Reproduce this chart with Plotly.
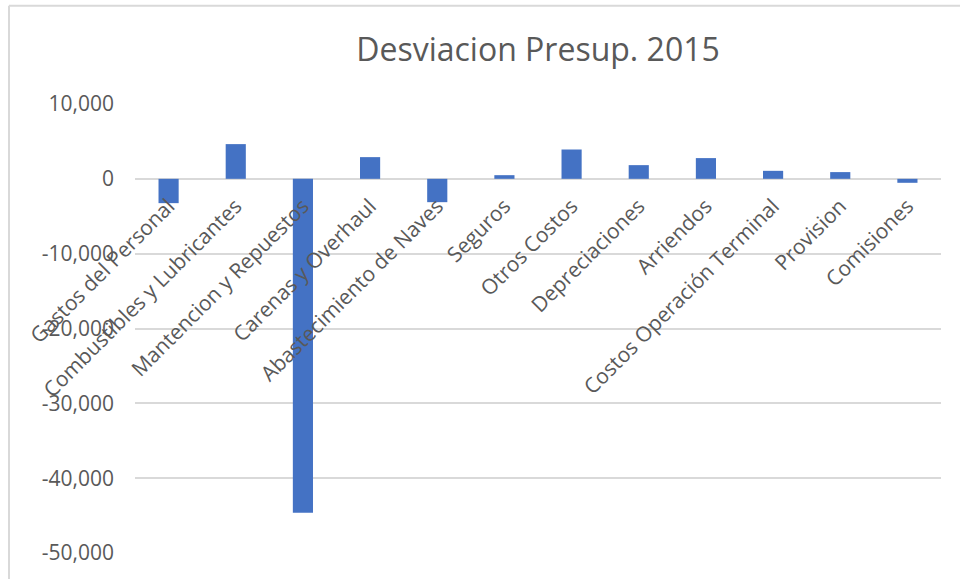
import plotly.graph_objects as go

categories = ["Gastos del Personal", "Combustibles y Lubricantes", "Mantencion y Repuestos",
              "Carenas y Overhaul", "Abastecimiento de Naves", "Seguros", "Otros Costos",
              "Depreciaciones", "Arriendos", "Costos Operación Terminal", "Provision", "Comisiones"]
values = [-3250, 4640, -44620, 2900, -3120, 490, 3920, 1830, 2770, 1070, 900, -530]
y_ticks = [10000, 0, -10000, -20000, -30000, -40000, -50000]
y_tick_labels = ["10,000", "0", "-10,000", "-20,000", "-30,000", "-40,000", "-50,000"]
title_text = "Desviacion Presup. 2015"

W, H = 960, 579
L, R, T, B = 135, 19, 104.3, 26
ymin, ymax = -50000, 10000
zero_pos = (0 - ymin) / (ymax - ymin)

FONT = "Open Sans"
GRAY = "#595959"

fig = go.Figure(go.Bar(x=categories, y=values, marker=dict(color="#4472C4", line=dict(width=0)),
                       width=0.3))

fig.update_layout(
    width=W, height=H,
    margin=dict(l=L, r=R, t=T, b=B, autoexpand=False),
    paper_bgcolor="white", plot_bgcolor="white",
    showlegend=False,
    title=dict(text=title_text, x=0.5, xref="paper", y=1 - 50 / H, yanchor="middle",
               font=dict(family=FONT, size=32, color=GRAY)),
    font=dict(family=FONT, color=GRAY),
)
fig.update_yaxes(range=[ymin, ymax], tickvals=y_ticks, ticktext=y_tick_labels,
                 showgrid=True, gridcolor="#d9d9d9", gridwidth=1.6,
                 zeroline=True, zerolinecolor="#d9d9d9", zerolinewidth=1.6,
                 showline=False, ticks="", ticklabelstandoff=20,
                 tickfont=dict(family=FONT, size=21, color=GRAY))
fig.update_xaxes(anchor="free", position=zero_pos, showline=False, showgrid=False,
                 ticks="", tickangle=-45, automargin=False, ticklabelstandoff=10,
                 tickfont=dict(family=FONT, size=21, color=GRAY))

# Excel chart area border (left and top edges)
px_x = lambda p: (p - L) / (W - L - R)
px_y = lambda p: (H - B - p) / (H - T - B)
fig.add_shape(type="line", xref="paper", yref="paper", x0=px_x(9), x1=px_x(9), y0=px_y(6), y1=px_y(H + 5),
              line=dict(color="#d9d9d9", width=2))
fig.add_shape(type="line", xref="paper", yref="paper", x0=px_x(9), x1=px_x(W + 5), y0=px_y(6), y1=px_y(6),
              line=dict(color="#d9d9d9", width=2))

fig.write_html("out.html", config={"displayModeBar": False},
               post_script="document.body.style.margin='0';")
